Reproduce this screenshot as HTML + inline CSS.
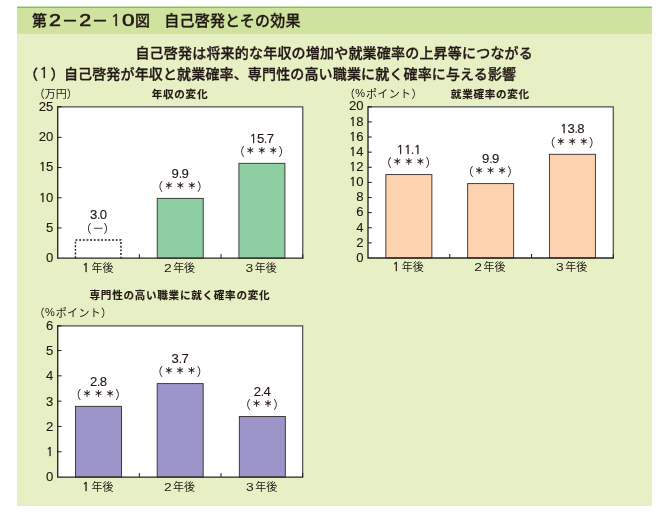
<!DOCTYPE html>
<html lang="ja"><head><meta charset="utf-8"><title>第2−2−10図 自己啓発とその効果</title>
<style>html,body{margin:0;padding:0;background:#fff}svg{display:block}text{fill:#231815}.n{font-family:"NanumGothic","IPAGothic","Liberation Sans",sans-serif}.j{font-family:"Liberation Sans","Noto Sans CJK JP",sans-serif}.l{font-family:"Liberation Sans",sans-serif}.ax{font-family:"Liberation Sans",sans-serif;font-size:11.5px;letter-spacing:.8px;text-anchor:end}.v{font-family:"Liberation Sans",sans-serif;font-size:11.5px;letter-spacing:.6px;text-anchor:middle}.s{font-family:"Liberation Sans","Noto Sans CJK JP",sans-serif;font-size:8.6px;font-weight:700;letter-spacing:2.9px;text-anchor:middle;stroke:#231815;stroke-width:.15px}.p{font-family:"Liberation Sans","Noto Sans CJK JP",sans-serif;font-size:11.5px}.d{font-family:"Liberation Sans",sans-serif;font-size:12px}.c{font-family:"Liberation Sans","Noto Sans CJK JP",sans-serif;font-size:11px;text-anchor:middle}.u{font-family:"Liberation Sans","Noto Sans CJK JP",sans-serif;font-size:11px}.t{font-family:"Liberation Sans","Noto Sans CJK JP",sans-serif;font-size:10.6px;font-weight:700;text-anchor:middle;letter-spacing:.7px;stroke:#231815;stroke-width:.12px}</style></head><body>
<svg width="666" height="515" viewBox="0 0 666 515">
<rect x="17" y="7" width="635" height="499" fill="#E7F0C5"/>
<rect x="17" y="7" width="635" height="26.9" fill="#CFE39F"/>
<rect x="17" y="6.55" width="635" height="1.4" fill="#7CC24E"/>
<text class="j" x="32" y="26" font-size="15" font-weight="500" stroke="#231815" stroke-width="0.3">第</text>
<text class="l" x="48.9" y="26" font-size="16.5" textLength="11.93" lengthAdjust="spacingAndGlyphs" stroke="#231815" stroke-width="0.55">2</text>
<text class="j" x="61.8" y="26.5" font-size="16.5" font-weight="500" stroke="#231815" stroke-width="0.3">－</text>
<text class="l" x="79.3" y="26" font-size="16.5" textLength="11.93" lengthAdjust="spacingAndGlyphs" stroke="#231815" stroke-width="0.55">2</text>
<text class="j" x="91.7" y="26.5" font-size="16.5" font-weight="500" stroke="#231815" stroke-width="0.3">－</text>
<text class="n" x="110.8" y="26" font-size="16.5" stroke="#231815" stroke-width="0.5">1</text>
<text class="l" x="122" y="26" font-size="16.5" textLength="12.57" lengthAdjust="spacingAndGlyphs" stroke="#231815" stroke-width="0.55">0</text>
<text class="j" x="135" y="26" font-size="15" font-weight="500" stroke="#231815" stroke-width="0.3">図</text>
<text class="j" x="164.3" y="25.7" font-size="15" font-weight="500" stroke="#231815" stroke-width="0.3" textLength="136.2" lengthAdjust="spacing">自己啓発とその効果</text>
<text class="j" x="135.4" y="57.9" font-size="14" font-weight="500" stroke="#231815" stroke-width="0.3" letter-spacing="0.2">自己啓発は将来的な年収の増加や就業確率の上昇等につながる</text>
<text class="j" x="24" y="78.6" font-size="14" font-weight="500" stroke="#231815" stroke-width="0.3">（</text>
<text class="n" x="39.6" y="78.4" font-size="14.5" stroke="#231815" stroke-width="0.45">1</text>
<text class="j" x="50.5" y="78.6" font-size="14" font-weight="500" stroke="#231815" stroke-width="0.3">）</text>
<text class="j" x="63.9" y="78.6" font-size="14" font-weight="500" stroke="#231815" stroke-width="0.3" letter-spacing="0.15">自己啓発が年収と就業確率、専門性の高い職業に就く確率に与える影響</text>
<rect x="57.7" y="106.8" width="245.05" height="151.35" fill="#fff"/>
<path d="M75.4417 258.15V240.03H120.942V258.15" fill="none" stroke="#231815" stroke-width="1.4" stroke-dasharray="1.9 1.75"/>
<text class="d" x="89.94" y="219.23" textLength="7.31" lengthAdjust="spacingAndGlyphs" stroke="#231815" stroke-width="0.12">3</text>
<text class="d" x="97.04" y="219.23">.</text>
<text class="d" x="99.84" y="219.23" textLength="7.31" lengthAdjust="spacingAndGlyphs" stroke="#231815" stroke-width="0.12">0</text>
<text class="p" x="79.9417" y="232.63">（</text>
<text class="p" x="103.542" y="232.63">）</text>
<text class="d" x="92.9417" y="231.83" textLength="10" lengthAdjust="spacingAndGlyphs">−</text>
<text class="c" x="91.4417" y="271.95" style="text-anchor:start">年後</text>
<text class="n" x="82.2417" y="271.95" font-size="11.5" stroke="#231815" stroke-width="0.4">1</text>
<rect x="157.225" y="198.354" width="46" height="59.796" fill="#8DCFA3" stroke="#332c2a" stroke-width="0.9"/>
<text class="d" x="171.62" y="177.554" textLength="7.31" lengthAdjust="spacingAndGlyphs" stroke="#231815" stroke-width="0.12">9</text>
<text class="d" x="178.73" y="177.554">.</text>
<text class="d" x="181.53" y="177.554" textLength="7.31" lengthAdjust="spacingAndGlyphs" stroke="#231815" stroke-width="0.12">9</text>
<text class="p" x="151.475" y="190.954">（</text>
<text class="p" x="196.875" y="190.954">）</text>
<text class="s" x="181.675" y="189.154">＊＊＊</text>
<text class="c" x="173.125" y="271.95" style="text-anchor:start">年後</text>
<text class="l" x="163.925" y="271.95" font-size="11.5" textLength="7.7" lengthAdjust="spacingAndGlyphs">2</text>
<rect x="238.908" y="163.322" width="46" height="94.828" fill="#8DCFA3" stroke="#332c2a" stroke-width="0.9"/>
<text class="n" x="249.85" y="142.522" font-size="11.5" stroke="#231815" stroke-width="0.4">1</text>
<text class="d" x="256.96" y="142.522" textLength="7.31" lengthAdjust="spacingAndGlyphs" stroke="#231815" stroke-width="0.12">5</text>
<text class="d" x="264.06" y="142.522">.</text>
<text class="d" x="266.86" y="142.522" textLength="7.31" lengthAdjust="spacingAndGlyphs" stroke="#231815" stroke-width="0.12">7</text>
<text class="p" x="233.158" y="155.922">（</text>
<text class="p" x="278.558" y="155.922">）</text>
<text class="s" x="263.358" y="154.122">＊＊＊</text>
<text class="c" x="254.808" y="271.95" style="text-anchor:start">年後</text>
<text class="l" x="245.608" y="271.95" font-size="11.5" textLength="7.7" lengthAdjust="spacingAndGlyphs">3</text>
<path d="M57.7 106.8H302.75V258.15" fill="none" stroke="#505055" stroke-width="1.25"/>
<path d="M57.7 106.3V258.15H303.35" fill="none" stroke="#2a2424" stroke-width="1.35"/>
<text class="d" x="46.09" y="262.05" textLength="7.31" lengthAdjust="spacingAndGlyphs" stroke="#231815" stroke-width="0.12">0</text>
<path d="M57.7 227.95h3.8" stroke="#231815" stroke-width="1"/>
<text class="d" x="46.09" y="231.85" textLength="7.31" lengthAdjust="spacingAndGlyphs" stroke="#231815" stroke-width="0.12">5</text>
<path d="M57.7 197.75h3.8" stroke="#231815" stroke-width="1"/>
<text class="n" x="38.99" y="201.65" font-size="11.5" stroke="#231815" stroke-width="0.4">1</text>
<text class="d" x="46.09" y="201.65" textLength="7.31" lengthAdjust="spacingAndGlyphs" stroke="#231815" stroke-width="0.12">0</text>
<path d="M57.7 167.55h3.8" stroke="#231815" stroke-width="1"/>
<text class="n" x="38.99" y="171.45" font-size="11.5" stroke="#231815" stroke-width="0.4">1</text>
<text class="d" x="46.09" y="171.45" textLength="7.31" lengthAdjust="spacingAndGlyphs" stroke="#231815" stroke-width="0.12">5</text>
<path d="M57.7 137.35h3.8" stroke="#231815" stroke-width="1"/>
<text class="d" x="38.79" y="141.25" textLength="7.31" lengthAdjust="spacingAndGlyphs" stroke="#231815" stroke-width="0.12">2</text>
<text class="d" x="46.09" y="141.25" textLength="7.31" lengthAdjust="spacingAndGlyphs" stroke="#231815" stroke-width="0.12">0</text>
<path d="M57.7 106.8h3.8" stroke="#231815" stroke-width="1.2"/>
<text class="d" x="38.79" y="111.05" textLength="7.31" lengthAdjust="spacingAndGlyphs" stroke="#231815" stroke-width="0.12">2</text>
<text class="d" x="46.09" y="111.05" textLength="7.31" lengthAdjust="spacingAndGlyphs" stroke="#231815" stroke-width="0.12">5</text>
<path d="M139.383 258.15v-4" stroke="#231815" stroke-width="1"/>
<path d="M221.067 258.15v-4" stroke="#231815" stroke-width="1"/>
<path d="M302.75 258.15v-4" stroke="#231815" stroke-width="1"/>
<text class="t" x="179.975" y="97.5">年収の変化</text>
<text class="u" x="33.7" y="97.6">（万円）</text>
<rect x="368" y="106.85" width="245.3" height="151.15" fill="#fff"/>
<rect x="385.883" y="174.584" width="46" height="83.4165" fill="#FCD2AF" stroke="#332c2a" stroke-width="0.9"/>
<text class="n" x="396.82" y="153.784" font-size="11.5" stroke="#231815" stroke-width="0.4">1</text>
<text class="n" x="404.13" y="153.784" font-size="11.5" stroke="#231815" stroke-width="0.4">1</text>
<text class="d" x="411.04" y="153.784">.</text>
<text class="n" x="414.04" y="153.784" font-size="11.5" stroke="#231815" stroke-width="0.4">1</text>
<text class="p" x="380.133" y="167.184">（</text>
<text class="p" x="425.533" y="167.184">）</text>
<text class="s" x="410.333" y="165.384">＊＊＊</text>
<text class="c" x="401.783" y="270.8" style="text-anchor:start">年後</text>
<text class="n" x="392.583" y="270.8" font-size="11.5" stroke="#231815" stroke-width="0.4">1</text>
<rect x="467.65" y="183.602" width="46" height="74.3985" fill="#FCD2AF" stroke="#332c2a" stroke-width="0.9"/>
<text class="d" x="482.04" y="162.802" textLength="7.31" lengthAdjust="spacingAndGlyphs" stroke="#231815" stroke-width="0.12">9</text>
<text class="d" x="489.15" y="162.802">.</text>
<text class="d" x="491.95" y="162.802" textLength="7.31" lengthAdjust="spacingAndGlyphs" stroke="#231815" stroke-width="0.12">9</text>
<text class="p" x="461.9" y="176.202">（</text>
<text class="p" x="507.3" y="176.202">）</text>
<text class="s" x="492.1" y="174.402">＊＊＊</text>
<text class="c" x="483.55" y="270.8" style="text-anchor:start">年後</text>
<text class="l" x="474.35" y="270.8" font-size="11.5" textLength="7.7" lengthAdjust="spacingAndGlyphs">2</text>
<rect x="549.417" y="154.293" width="46" height="103.707" fill="#FCD2AF" stroke="#332c2a" stroke-width="0.9"/>
<text class="n" x="560.36" y="133.493" font-size="11.5" stroke="#231815" stroke-width="0.4">1</text>
<text class="d" x="567.46" y="133.493" textLength="7.31" lengthAdjust="spacingAndGlyphs" stroke="#231815" stroke-width="0.12">3</text>
<text class="d" x="574.57" y="133.493">.</text>
<text class="d" x="577.37" y="133.493" textLength="7.31" lengthAdjust="spacingAndGlyphs" stroke="#231815" stroke-width="0.12">8</text>
<text class="p" x="543.667" y="146.893">（</text>
<text class="p" x="589.067" y="146.893">）</text>
<text class="s" x="573.867" y="145.093">＊＊＊</text>
<text class="c" x="565.317" y="270.8" style="text-anchor:start">年後</text>
<text class="l" x="556.117" y="270.8" font-size="11.5" textLength="7.7" lengthAdjust="spacingAndGlyphs">3</text>
<path d="M368 106.85H613.3V258" fill="none" stroke="#505055" stroke-width="1.25"/>
<path d="M368 106.35V258H613.9" fill="none" stroke="#2a2424" stroke-width="1.35"/>
<text class="d" x="356.39" y="261.75" textLength="7.31" lengthAdjust="spacingAndGlyphs" stroke="#231815" stroke-width="0.12">0</text>
<path d="M368 242.88h3.8" stroke="#231815" stroke-width="1"/>
<text class="d" x="356.39" y="246.63" textLength="7.31" lengthAdjust="spacingAndGlyphs" stroke="#231815" stroke-width="0.12">2</text>
<path d="M368 227.76h3.8" stroke="#231815" stroke-width="1"/>
<text class="d" x="356.39" y="231.51" textLength="7.31" lengthAdjust="spacingAndGlyphs" stroke="#231815" stroke-width="0.12">4</text>
<path d="M368 212.64h3.8" stroke="#231815" stroke-width="1"/>
<text class="d" x="356.39" y="216.39" textLength="7.31" lengthAdjust="spacingAndGlyphs" stroke="#231815" stroke-width="0.12">6</text>
<path d="M368 197.52h3.8" stroke="#231815" stroke-width="1"/>
<text class="d" x="356.39" y="201.27" textLength="7.31" lengthAdjust="spacingAndGlyphs" stroke="#231815" stroke-width="0.12">8</text>
<path d="M368 182.4h3.8" stroke="#231815" stroke-width="1"/>
<text class="n" x="349.29" y="186.15" font-size="11.5" stroke="#231815" stroke-width="0.4">1</text>
<text class="d" x="356.39" y="186.15" textLength="7.31" lengthAdjust="spacingAndGlyphs" stroke="#231815" stroke-width="0.12">0</text>
<path d="M368 167.28h3.8" stroke="#231815" stroke-width="1"/>
<text class="n" x="349.29" y="171.03" font-size="11.5" stroke="#231815" stroke-width="0.4">1</text>
<text class="d" x="356.39" y="171.03" textLength="7.31" lengthAdjust="spacingAndGlyphs" stroke="#231815" stroke-width="0.12">2</text>
<path d="M368 152.16h3.8" stroke="#231815" stroke-width="1"/>
<text class="n" x="349.29" y="155.91" font-size="11.5" stroke="#231815" stroke-width="0.4">1</text>
<text class="d" x="356.39" y="155.91" textLength="7.31" lengthAdjust="spacingAndGlyphs" stroke="#231815" stroke-width="0.12">4</text>
<path d="M368 137.04h3.8" stroke="#231815" stroke-width="1"/>
<text class="n" x="349.29" y="140.79" font-size="11.5" stroke="#231815" stroke-width="0.4">1</text>
<text class="d" x="356.39" y="140.79" textLength="7.31" lengthAdjust="spacingAndGlyphs" stroke="#231815" stroke-width="0.12">6</text>
<path d="M368 121.92h3.8" stroke="#231815" stroke-width="1"/>
<text class="n" x="349.29" y="125.67" font-size="11.5" stroke="#231815" stroke-width="0.4">1</text>
<text class="d" x="356.39" y="125.67" textLength="7.31" lengthAdjust="spacingAndGlyphs" stroke="#231815" stroke-width="0.12">8</text>
<path d="M368 106.85h3.8" stroke="#231815" stroke-width="1.2"/>
<text class="d" x="349.09" y="109.95" textLength="7.31" lengthAdjust="spacingAndGlyphs" stroke="#231815" stroke-width="0.12">2</text>
<text class="d" x="356.39" y="109.95" textLength="7.31" lengthAdjust="spacingAndGlyphs" stroke="#231815" stroke-width="0.12">0</text>
<path d="M449.767 258v-4" stroke="#231815" stroke-width="1"/>
<path d="M531.533 258v-4" stroke="#231815" stroke-width="1"/>
<path d="M613.3 258v-4" stroke="#231815" stroke-width="1"/>
<text class="t" x="490.4" y="97.5">就業確率の変化</text>
<text class="u" x="344" y="97.6">（</text>
<text class="l" x="355.2" y="97.3" font-size="11">%</text>
<text class="u" x="366" y="97.6" letter-spacing="0.35">ポイント）</text>
<rect x="57.7" y="325.85" width="244.95" height="151.2" fill="#fff"/>
<rect x="75.525" y="406.35" width="46" height="70.7" fill="#9C95CA" stroke="#332c2a" stroke-width="0.9"/>
<text class="d" x="89.92" y="385.55" textLength="7.31" lengthAdjust="spacingAndGlyphs" stroke="#231815" stroke-width="0.12">2</text>
<text class="d" x="97.03" y="385.55">.</text>
<text class="d" x="99.83" y="385.55" textLength="7.31" lengthAdjust="spacingAndGlyphs" stroke="#231815" stroke-width="0.12">8</text>
<text class="p" x="69.775" y="398.95">（</text>
<text class="p" x="115.175" y="398.95">）</text>
<text class="s" x="99.975" y="397.15">＊＊＊</text>
<text class="c" x="91.425" y="491.15" style="text-anchor:start">年後</text>
<text class="n" x="82.225" y="491.15" font-size="11.5" stroke="#231815" stroke-width="0.4">1</text>
<rect x="157.175" y="383.625" width="46" height="93.425" fill="#9C95CA" stroke="#332c2a" stroke-width="0.9"/>
<text class="d" x="171.57" y="362.825" textLength="7.31" lengthAdjust="spacingAndGlyphs" stroke="#231815" stroke-width="0.12">3</text>
<text class="d" x="178.68" y="362.825">.</text>
<text class="d" x="181.47" y="362.825" textLength="7.31" lengthAdjust="spacingAndGlyphs" stroke="#231815" stroke-width="0.12">7</text>
<text class="p" x="151.425" y="376.225">（</text>
<text class="p" x="196.825" y="376.225">）</text>
<text class="s" x="181.625" y="374.425">＊＊＊</text>
<text class="c" x="173.075" y="491.15" style="text-anchor:start">年後</text>
<text class="l" x="163.875" y="491.15" font-size="11.5" textLength="7.7" lengthAdjust="spacingAndGlyphs">2</text>
<rect x="239.325" y="416.45" width="46" height="60.6" fill="#9C95CA" stroke="#332c2a" stroke-width="0.9"/>
<text class="d" x="253.72" y="395.65" textLength="7.31" lengthAdjust="spacingAndGlyphs" stroke="#231815" stroke-width="0.12">2</text>
<text class="d" x="260.82" y="395.65">.</text>
<text class="d" x="263.62" y="395.65" textLength="7.31" lengthAdjust="spacingAndGlyphs" stroke="#231815" stroke-width="0.12">4</text>
<text class="p" x="239.325" y="409.05">（</text>
<text class="p" x="273.225" y="409.05">）</text>
<text class="s" x="263.775" y="407.25">＊＊</text>
<text class="c" x="255.225" y="491.15" style="text-anchor:start">年後</text>
<text class="l" x="246.025" y="491.15" font-size="11.5" textLength="7.7" lengthAdjust="spacingAndGlyphs">3</text>
<path d="M57.7 325.85H302.65V477.05" fill="none" stroke="#505055" stroke-width="1.25"/>
<path d="M57.7 325.35V477.05H303.25" fill="none" stroke="#2a2424" stroke-width="1.35"/>
<text class="d" x="46.09" y="481.45" textLength="7.31" lengthAdjust="spacingAndGlyphs" stroke="#231815" stroke-width="0.12">0</text>
<path d="M57.7 451.75h3.8" stroke="#231815" stroke-width="1"/>
<text class="n" x="46.29" y="456.15" font-size="11.5" stroke="#231815" stroke-width="0.4">1</text>
<path d="M57.7 426.45h3.8" stroke="#231815" stroke-width="1"/>
<text class="d" x="46.09" y="430.85" textLength="7.31" lengthAdjust="spacingAndGlyphs" stroke="#231815" stroke-width="0.12">2</text>
<path d="M57.7 401.15h3.8" stroke="#231815" stroke-width="1"/>
<text class="d" x="46.09" y="405.55" textLength="7.31" lengthAdjust="spacingAndGlyphs" stroke="#231815" stroke-width="0.12">3</text>
<path d="M57.7 375.85h3.8" stroke="#231815" stroke-width="1"/>
<text class="d" x="46.09" y="380.25" textLength="7.31" lengthAdjust="spacingAndGlyphs" stroke="#231815" stroke-width="0.12">4</text>
<path d="M57.7 350.55h3.8" stroke="#231815" stroke-width="1"/>
<text class="d" x="46.09" y="354.95" textLength="7.31" lengthAdjust="spacingAndGlyphs" stroke="#231815" stroke-width="0.12">5</text>
<path d="M57.7 325.85h3.8" stroke="#231815" stroke-width="1.2"/>
<text class="d" x="46.09" y="329.65" textLength="7.31" lengthAdjust="spacingAndGlyphs" stroke="#231815" stroke-width="0.12">6</text>
<path d="M139.35 477.05v-4" stroke="#231815" stroke-width="1"/>
<path d="M221 477.05v-4" stroke="#231815" stroke-width="1"/>
<path d="M302.65 477.05v-4" stroke="#231815" stroke-width="1"/>
<text class="t" x="179.925" y="299.4">専門性の高い職業に就く確率の変化</text>
<text class="u" x="33.7" y="316.6">（</text>
<text class="l" x="44.9" y="316.3" font-size="11">%</text>
<text class="u" x="55.7" y="316.6" letter-spacing="0.35">ポイント）</text>
</svg></body></html>
